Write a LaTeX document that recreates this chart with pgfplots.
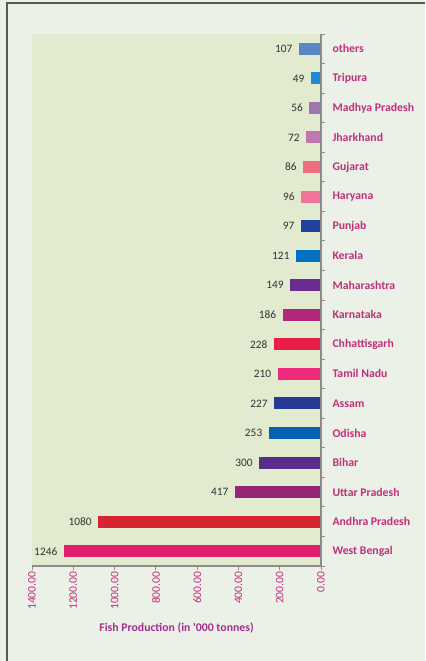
\documentclass[border=0pt]{standalone}
\usepackage{pgfplots}
\pgfplotsset{compat=1.18}
\usepackage{fontspec}
\setmainfont{Carlito}
\newfontfamily\nomap{Carlito}[Ligatures=ResetAll]
\definecolor{outerbg}{HTML}{ECF1E8}
\definecolor{plotbg}{HTML}{E2EAD0}
\definecolor{catcol}{HTML}{C0307A}
\definecolor{tickcol}{HTML}{C0307A}
\definecolor{xlabcol}{HTML}{A32E8E}
\definecolor{axcol}{HTML}{8C8C8C}
\definecolor{valcol}{HTML}{333333}
\definecolor{c17}{HTML}{5B86C4}
\definecolor{c16}{HTML}{1F8ACF}
\definecolor{c15}{HTML}{9B78AE}
\definecolor{c14}{HTML}{C077AE}
\definecolor{c13}{HTML}{EE6B80}
\definecolor{c12}{HTML}{F07398}
\definecolor{c11}{HTML}{21429A}
\definecolor{c10}{HTML}{0070C0}
\definecolor{c9}{HTML}{6A2C91}
\definecolor{c8}{HTML}{B0287C}
\definecolor{c7}{HTML}{E91E47}
\definecolor{c6}{HTML}{EE2A7B}
\definecolor{c5}{HTML}{283B94}
\definecolor{c4}{HTML}{0562B0}
\definecolor{c3}{HTML}{5B2D8A}
\definecolor{c2}{HTML}{962677}
\definecolor{c1}{HTML}{D72433}
\definecolor{c0}{HTML}{E01E6E}
\begin{document}
\begin{tikzpicture}[x=1bp,y=1bp]
\fill[outerbg] (0,0) rectangle (425,661);
\draw[line width=1.5bp, color=black!65] (7,0) -- (7,658) -- (425,658);
\begin{axis}[
  at={(32bp,95bp)}, anchor=south west,
  scale only axis, width=289bp, height=532bp,
  xmin=-1400, xmax=0, ymin=-0.5, ymax=17.5,
  axis background/.style={fill=plotbg},
  axis line style={draw=none},
  xbar, bar width=12bp, bar shift=0pt,
  xtick={-1400,-1200,-1000,-800,-600,-400,-200,0},
  xticklabels={1400.00,1200.00,1000.00,800.00,600.00,400.00,200.00,0.00},
  xticklabel style={rotate=90, anchor=east, font=\fontsize{11.6}{13}\selectfont, text=tickcol, inner sep=1.5bp},
  tick align=outside,
  major tick length=4bp,
  xtick pos=bottom,
  x tick style={draw=axcol, line width=0.8bp},
  ytick={0,...,17},
  yticklabels={West Bengal,Andhra Pradesh,Uttar Pradesh,Bihar,Odisha,Assam,Tamil Nadu,Chhattisgarh,Karnataka,Maharashtra,Kerala,Punjab,Haryana,Gujarat,Jharkhand,Madhya Pradesh,Tripura,others},
  ytick pos=right, yticklabel pos=right,
  yticklabel style={anchor=west, xshift=4bp, font=\bfseries\fontsize{11.8}{13}\selectfont, text=catcol},
  major y tick style={draw=none},
  minor ytick={-0.5,0.5,...,17.5},
  minor tick length=3.5bp,
  minor y tick style={draw=axcol, line width=0.8bp},
  xlabel={Fish Production (in {\nomap\bfseries '}000 tonnes)},
  xlabel style={font=\bfseries\fontsize{11.8}{13}\selectfont, text=xlabcol, yshift=-8bp},
  nodes near coords,
  nodes near coords align={anchor=east},
  point meta=explicit symbolic,
  every node near coord/.append style={font=\fontsize{11.4}{13}\selectfont, text=valcol, xshift=-3bp},
  clip=false,
]
\addplot[draw=none, fill=c0] coordinates {(-1246,0) [1246]};
\addplot[draw=none, fill=c1] coordinates {(-1080,1) [1080]};
\addplot[draw=none, fill=c2] coordinates {(-417,2) [417]};
\addplot[draw=none, fill=c3] coordinates {(-300,3) [300]};
\addplot[draw=none, fill=c4] coordinates {(-253,4) [253]};
\addplot[draw=none, fill=c5] coordinates {(-227,5) [227]};
\addplot[draw=none, fill=c6] coordinates {(-210,6) [210]};
\addplot[draw=none, fill=c7] coordinates {(-228,7) [228]};
\addplot[draw=none, fill=c8] coordinates {(-186,8) [186]};
\addplot[draw=none, fill=c9] coordinates {(-149,9) [149]};
\addplot[draw=none, fill=c10] coordinates {(-121,10) [121]};
\addplot[draw=none, fill=c11] coordinates {(-97,11) [97]};
\addplot[draw=none, fill=c12] coordinates {(-96,12) [96]};
\addplot[draw=none, fill=c13] coordinates {(-86,13) [86]};
\addplot[draw=none, fill=c14] coordinates {(-72,14) [72]};
\addplot[draw=none, fill=c15] coordinates {(-56,15) [56]};
\addplot[draw=none, fill=c16] coordinates {(-49,16) [49]};
\addplot[draw=none, fill=c17] coordinates {(-107,17) [107]};
\draw[axcol, line width=2bp] (axis cs:0,17.5) -- (axis cs:0,-0.5);
\draw[axcol, line width=1.2bp] (axis cs:0,-0.5) -- (axis cs:-1400,-0.5);
\end{axis}
\pgfresetboundingbox
\useasboundingbox (0,0) rectangle (425,661);
\end{tikzpicture}
\end{document}
